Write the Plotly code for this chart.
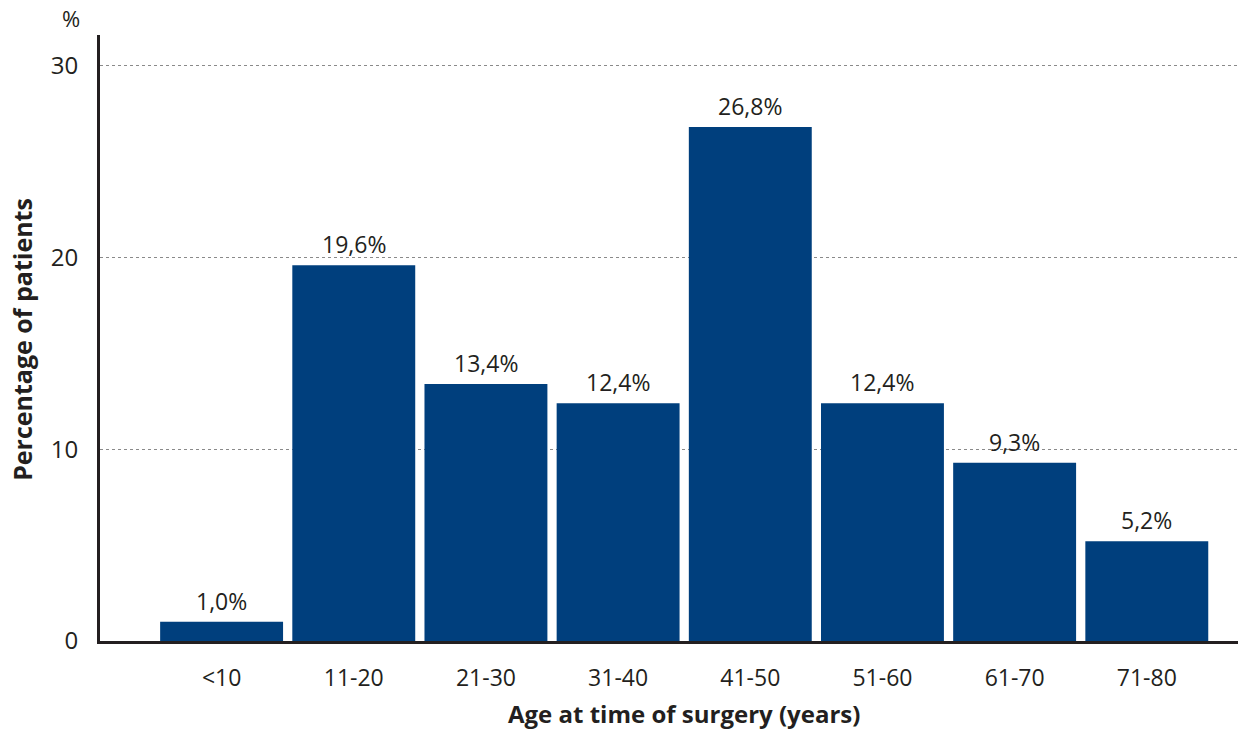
import plotly.graph_objects as go

age_groups = ["<10", "11-20", "21-30", "31-40", "41-50", "51-60", "61-70", "71-80"]
patients_pct = [1.0, 19.6, 13.4, 12.4, 26.8, 12.4, 9.3, 5.2]
y_ticks = [0, 10, 20, 30]

BAR = "#003f7d"
INK = "#231f20"
FONT = "Open Sans"

fig = go.Figure(
    go.Bar(
        x=age_groups,
        y=patients_pct,
        width=0.93,
        marker=dict(color=BAR, line=dict(width=0)),
        hoverinfo="skip",
    )
)

# value labels above each bar, with a decimal comma
for cat, val in zip(age_groups, patients_pct):
    fig.add_annotation(
        x=cat, y=val, text=f"{val:.1f}".replace(".", ",") + "%",
        showarrow=False, yanchor="bottom", yshift=3,
        font=dict(family=FONT, size=23, color=INK),
    )

fig.add_annotation(
    xref="paper", yref="paper", x=-0.016, y=1.0, text="%",
    showarrow=False, xanchor="right", yanchor="bottom",
    font=dict(family=FONT, size=22, color=INK),
)
fig.add_annotation(
    xref="paper", yref="paper", x=0.5, y=-0.119, text="<b>Age at time of surgery (years)</b>",
    showarrow=False, xanchor="center", yanchor="middle", xshift=15,
    font=dict(family=FONT, size=24, color=INK),
)
fig.add_annotation(
    xref="paper", yref="paper", x=-0.0685, y=0.497, text="<b>Percentage of patients</b>",
    showarrow=False, textangle=-90, xanchor="center", yanchor="middle",
    font=dict(family=FONT, size=25, color=INK),
)

fig.update_layout(
    width=1238, height=729,
    margin=dict(l=100, r=0, t=35, b=88),
    paper_bgcolor="white", plot_bgcolor="white",
    showlegend=False,
    font=dict(family=FONT, size=23, color=INK),
)
fig.update_xaxes(
    type="category", range=[-0.92, 7.69],
    showline=True, linewidth=3, linecolor=INK,
    ticks="", showgrid=False, ticklabelstandoff=14,
    tickfont=dict(family=FONT, size=23, color=INK),
)
fig.update_yaxes(
    range=[0, 31.6], tickvals=y_ticks,
    showline=True, linewidth=3, linecolor=INK,
    showgrid=True, gridcolor="#8a8a8a", gridwidth=1, griddash="dot",
    zeroline=False, ticks="", ticklabelstandoff=14,
    tickfont=dict(family=FONT, size=24, color=INK),
)

fig.write_html("out.html")
